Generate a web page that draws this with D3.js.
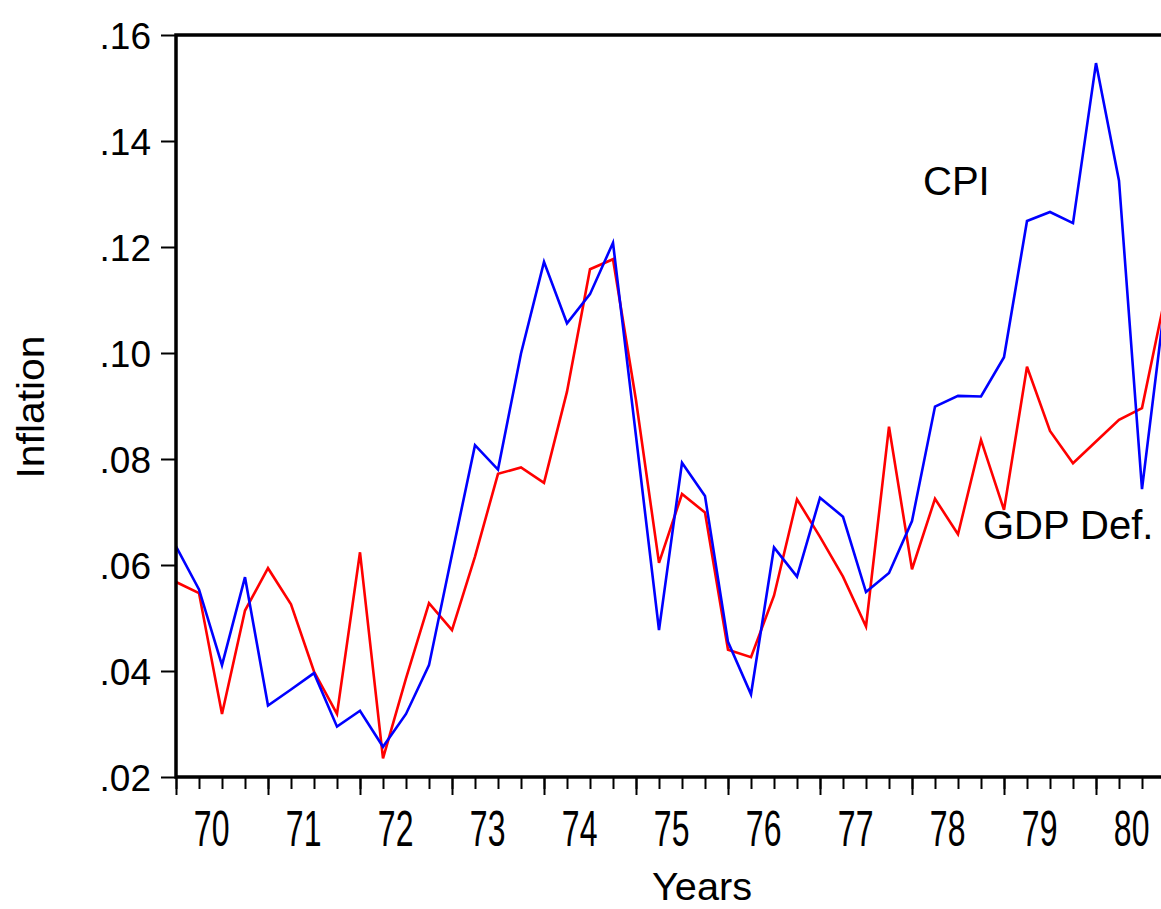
<!DOCTYPE html>
<html>
  <head>
    <title>Inflation</title>
    <meta charset="utf-8">
    <script src='https://d3js.org/d3.v7.min.js'></script>
    <style>
      body { margin: 0; overflow: hidden; background: #fff; }
      text { font-family: 'Liberation Sans', Arial, sans-serif; }
    </style>
  </head>
  <body>
  <div id="chart"></div>
  <script>
    var width = 1161,
        height = 909;

    // quarterly, 1970Q1 .. 1980Q4
    var years = ['70','71','72','73','74','75','76','77','78','79','80'];
    var yTicks = [0.02, 0.04, 0.06, 0.08, 0.10, 0.12, 0.14, 0.16];

    var cpi = [0.0635, 0.0554, 0.0411, 0.0577,
               0.0335, 0.0365, 0.0396, 0.0295,
               0.0325, 0.0257, 0.0319, 0.0411,
               0.0620, 0.0826, 0.0780, 0.0999,
               0.1172, 0.1056, 0.1111, 0.1208,
               0.0843, 0.0477, 0.0793, 0.0730,
               0.0455, 0.0356, 0.0633, 0.0578,
               0.0727, 0.0691, 0.0549, 0.0585,
               0.0683, 0.0899, 0.0919, 0.0918,
               0.0992, 0.1249, 0.1266, 0.1245,
               0.1547, 0.1325, 0.0743, 0.1097];

    var gdpDef = [0.0568, 0.0547, 0.0319, 0.0514,
                  0.0594, 0.0526, 0.0399, 0.0319,
                  0.0624, 0.0235, 0.0386, 0.0528,
                  0.0477, 0.0616, 0.0772, 0.0784,
                  0.0755, 0.0927, 0.1158, 0.1177,
                  0.0911, 0.0604, 0.0734, 0.0699,
                  0.0440, 0.0426, 0.0542, 0.0724,
                  0.0653, 0.0578, 0.0484, 0.0861,
                  0.0592, 0.0725, 0.0658, 0.0836,
                  0.0704, 0.0974, 0.0853, 0.0792,
                  0.0833, 0.0874, 0.0896, 0.1105];

    var svg = d3.select('#chart')
      .append('svg')
      .attr('width', width)
      .attr('height', height);

    var plotL = 176, plotT = 35, plotB = 777;
    var nq = years.length * 4;

    var x = d3.scaleLinear().domain([0, nq]).range([plotL, plotL + nq * 23]);
    var y = d3.scaleLinear().domain([0.02, 0.16]).range([plotB, plotT]);

    // minor (quarter) ticks
    svg.append('g')
      .attr('transform', 'translate(0,' + plotB + ')')
      .call(d3.axisBottom(x).tickValues(d3.range(0, nq + 1)).tickSize(12).tickFormat(''))
      .call(function(g) { g.select('.domain').remove(); })
      .selectAll('line').attr('stroke', '#000').attr('stroke-width', 2);

    // major (year) ticks
    svg.append('g')
      .attr('transform', 'translate(0,' + plotB + ')')
      .call(d3.axisBottom(x).tickValues(d3.range(0, nq + 1, 4)).tickSize(18).tickFormat(''))
      .call(function(g) { g.select('.domain').remove(); })
      .selectAll('line').attr('stroke', '#000').attr('stroke-width', 2);

    // year labels (tall, narrow type)
    svg.selectAll('.yr')
      .data(years)
      .enter()
      .append('text')
      .attr('class', 'yr')
      .attr('text-anchor', 'middle')
      .attr('font-size', 50)
      .attr('transform', function(d, i) { return 'translate(' + x(i * 4 + 1.55) + ',846) scale(0.64,1)'; })
      .text(function(d) { return d; });

    // y axis
    var yAxis = svg.append('g')
      .attr('transform', 'translate(' + plotL + ',0)')
      .call(d3.axisLeft(y).tickValues(yTicks).tickSize(15)
        .tickFormat(function(d) { return d3.format('.2f')(d).replace(/^0/, ''); }));
    yAxis.select('.domain').remove();
    yAxis.selectAll('line').attr('stroke', '#000').attr('stroke-width', 2);
    yAxis.selectAll('text')
      .attr('font-size', 37)
      .attr('fill', '#000')
      .attr('x', -25)
      .attr('dy', '0.36em');

    // series
    var line = d3.line()
      .x(function(d, i) { return x(i); })
      .y(function(d) { return y(d); });

    svg.append('path')
      .datum(gdpDef)
      .attr('d', line)
      .attr('fill', 'none')
      .attr('stroke', '#ff0000')
      .attr('stroke-width', 2.6);

    svg.append('path')
      .datum(cpi)
      .attr('d', line)
      .attr('fill', 'none')
      .attr('stroke', '#0000ff')
      .attr('stroke-width', 2.6);

    // frame
    svg.append('rect')
      .attr('x', plotL)
      .attr('y', plotT)
      .attr('width', x(nq) - plotL)
      .attr('height', plotB - plotT)
      .attr('fill', 'none')
      .attr('stroke', '#000')
      .attr('stroke-width', 3.5);

    // labels
    svg.append('text')
      .attr('x', 923).attr('y', 195)
      .attr('font-size', 40)
      .text('CPI');

    svg.append('text')
      .attr('x', 983).attr('y', 539)
      .attr('font-size', 40)
      .text('GDP Def.');

    svg.append('text')
      .attr('transform', 'translate(44,407) rotate(-90)')
      .attr('text-anchor', 'middle')
      .attr('font-size', 38)
      .attr('textLength', 143)
      .attr('lengthAdjust', 'spacingAndGlyphs')
      .text('Inflation');

    svg.append('text')
      .attr('x', 702).attr('y', 900)
      .attr('text-anchor', 'middle')
      .attr('font-size', 38)
      .attr('textLength', 100)
      .attr('lengthAdjust', 'spacingAndGlyphs')
      .text('Years');
  </script>
  </body>
</html>
